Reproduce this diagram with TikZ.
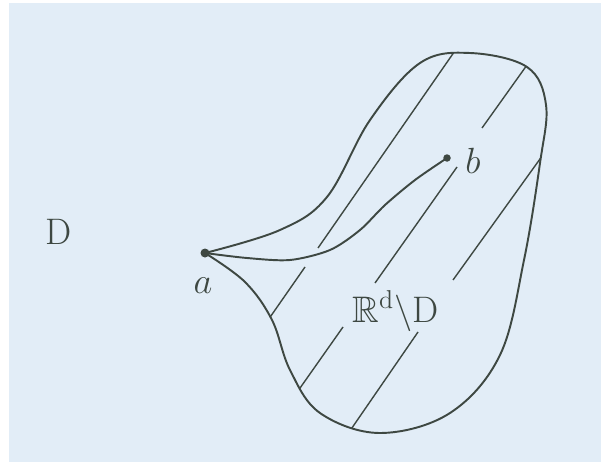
\documentclass[tikz,border=0pt]{standalone}
\usepackage{amssymb}
\usepackage{fontspec}
\usepackage{tikz}
\usetikzlibrary{positioning}
\definecolor{paperblue}{RGB}{226,237,247}
\definecolor{inkgray}{RGB}{62,72,66}
\newcommand{\blobpath}{plot[smooth, tension=0.6] coordinates {(4.10,4.20) (5.60,4.66) (6.54,5.32) (7.40,6.86) (8.40,8.00) (9.40,8.20) (10.54,7.92) (10.92,7.16) (10.80,6.00) (10.48,4.06) (10.00,2.16) (9.00,1.00) (7.60,0.60) (6.40,1.00) (5.80,1.86) (5.44,2.86) (4.90,3.62) (4.10,4.20)}}

\begin{document}
\begin{tikzpicture}[
    every node/.style={font=\fontsize{21}{25}\selectfont, text=inkgray},
    outline/.style={draw=inkgray, line width=1.1pt},
    hatch/.style={draw=inkgray, line width=0.8pt},
    pointdot/.style={circle, fill=inkgray, inner sep=0pt, minimum size=#1},
    pointdot/.default=0.18cm]
        % Page
        \useasboundingbox (0,0) rectangle (12.02,9.26);
        \fill[white] (0,0) rectangle (12.02,9.26);
        \fill[paperblue] (0.18,0.02) rectangle (12.02,9.20);

        % Hatching of the complement
        \begin{scope}
            \clip \blobpath;
            \draw[hatch] (9.18,8.36) -- (6.36,4.30);
            \draw[hatch] (6.10,3.92) -- (5.32,2.80);
            \draw[hatch] (10.64,8.10) -- (9.64,6.70);
            \draw[hatch] (9.14,5.92) -- (7.50,3.60);
            \draw[hatch] (6.86,2.72) -- (5.86,1.30);
            \draw[hatch] (10.90,6.22) -- (9.06,3.66);
            \draw[hatch] (8.36,2.62) -- (6.90,0.50);
        \end{scope}

        % Boundary
        \draw[outline] \blobpath;

        % Points and the path between them
        \node[pointdot] (a) at (4.10,4.20) {};
        \node[pointdot=0.15cm] (b) at (8.94,6.10) {};
        \draw[outline] plot[smooth, tension=0.5] coordinates {(a.center) (4.94,4.10) (5.80,4.06) (6.60,4.26) (7.20,4.66) (7.70,5.16) (8.30,5.66) (b.center)};

        % Labels
        \node (labela) at (4.06,3.54) {$a$};
        \node (labelb) at (9.46,6.04) {$b$};
        \node (domain) at (1.17,4.62) {D};
        \node[anchor=base] (complement) at (7.91,2.82) {$\mathbb{R}^{\mathrm{d}}{\setminus}\mathrm{D}$};
\end{tikzpicture}
\end{document}
